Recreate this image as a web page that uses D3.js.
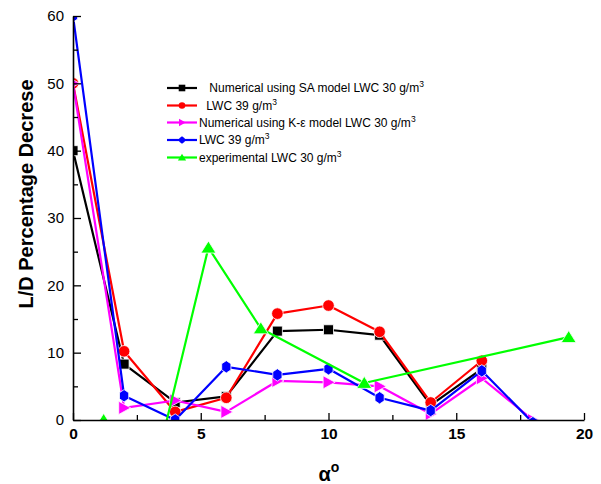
<!DOCTYPE html>
<html>
<head>
<meta charset="utf-8">
<script src="https://cdn.jsdelivr.net/npm/d3@7/dist/d3.min.js"></script>
<style>
  html, body { margin: 0; padding: 0; background: #fff; }
  svg { display: block; font-family: Arial, "Liberation Sans", sans-serif; }
</style>
</head>
<body>
<svg id="chart" width="601" height="484"></svg>
<script>
// ---- data ----
const alphaA = [0, 2, 4, 6, 8, 10, 12, 14, 16];
const alphaB = [0, 2, 4, 6, 8, 10, 12, 14, 16, 18];
const saLwc30 = [40, 8.3, 2.6, 3.5, 13.2, 13.4, 12.6, 2.2, 7.6];
const saLwc39 = [50, 10.2, 1.2, 3.3, 15.8, 17.0, 13.1, 2.6, 8.8];
const keLwc30 = [50, 1.8, 2.9, 1.2, 5.8, 5.6, 5.0, 0.9, 6.2, 0];
const keLwc39 = [60, 3.6, 0, 7.9, 6.7, 7.6, 3.3, 1.4, 7.3, -0.4];
const expAlpha = [1.2, 3.5, 5.3, 7.35, 11.4, 19.4];
const expLwc30 = [0, -2.7, 25.6, 13.6, 5.5, 12.3];
const yTicks = [0, 10, 20, 30, 40, 50, 60];
const yMinor = [5, 15, 25, 35, 45, 55];
const xTicks = [0, 5, 10, 15, 20];
const xMinor = [2.5, 7.5, 12.5, 17.5];
const legendLabels = [" Numerical using SA model LWC 30 g/m", " LWC 39 g/m", "Numerical using K-\u03b5 model LWC 30 g/m", "LWC 39 g/m", "experimental LWC 30 g/m"];

const series = [
  { xs: alphaA, ys: saLwc30, color: "#000000", shape: "square" },
  { xs: alphaA, ys: saLwc39, color: "#ff0000", shape: "circle" },
  { xs: alphaB, ys: keLwc30, color: "#ff00ff", shape: "right" },
  { xs: alphaB, ys: keLwc39, color: "#0000ff", shape: "hex" },
  { xs: expAlpha, ys: expLwc30, color: "#00ff00", shape: "up" }
];

// ---- layout ----
const svg = d3.select("#chart");
const L = 73, R = 584, T = 16, B = 420;
const x = d3.scaleLinear().domain([0, 20]).range([L, R]);
const y = d3.scaleLinear().domain([0, 60]).range([B, T]);

function shapePath(shape, s) {
  if (shape === "square") {
    return `M${-s},${-s}H${s}V${s}H${-s}Z`;
  }
  if (shape === "circle") {
    return `M${s},0A${s},${s} 0 1,1 ${-s},0A${s},${s} 0 1,1 ${s},0Z`;
  }
  if (shape === "hex") {
    const pts = d3.range(6).map(i => {
      const a = Math.PI / 2 + i * Math.PI / 3;
      return [s * 0.95 * Math.cos(a), s * 1.1 * Math.sin(a)];
    });
    return "M" + pts.map(p => p.join(",")).join("L") + "Z";
  }
  if (shape === "right") {
    return `M${s * 1.1},0L${-s * 0.9},${-s * 1.1}L${-s * 0.9},${s * 1.1}Z`;
  }
  if (shape === "up") {
    return `M0,${-s * 1.1}L${s * 1.25},${s * 0.9}L${-s * 1.25},${s * 0.9}Z`;
  }
}
const markerSize = { square: 5, circle: 5.8, hex: 5.6, right: 6, up: 6 };

svg.append("defs").append("clipPath").attr("id", "plotclip")
  .append("rect").attr("x", L).attr("y", T).attr("width", R - L).attr("height", B - T);

const plot = svg.append("g").attr("clip-path", "url(#plotclip)");
const line = d3.line().x(d => x(d[0])).y(d => y(d[1]));

series.forEach(s => {
  const pts = s.xs.map((v, i) => [v, s.ys[i]]);
  plot.append("path").datum(pts)
    .attr("d", line)
    .attr("fill", "none")
    .attr("stroke", s.color)
    .attr("stroke-width", 2.2)
    .attr("stroke-linejoin", "round");
  plot.selectAll(null).data(pts).enter().append("path")
    .attr("transform", d => `translate(${x(d[0])},${y(d[1])})`)
    .attr("d", shapePath(s.shape, markerSize[s.shape]))
    .attr("fill", s.color)
    .attr("stroke", "#fff")
    .attr("stroke-width", 0.8);
});

// ---- axes ----
const yAxis = svg.append("g").attr("transform", `translate(${L},0)`)
  .call(d3.axisLeft(y).tickValues(yTicks).tickSizeInner(-8).tickSizeOuter(0).tickPadding(9));
yAxis.select(".domain").attr("stroke-width", 1.6);
yAxis.selectAll(".tick line").attr("stroke-width", 1.3);
yAxis.selectAll("text").attr("font-size", 15).attr("font-family", "Arial, 'Liberation Sans', sans-serif").attr("fill", "#000");

const yAxisMinor = svg.append("g").attr("transform", `translate(${L},0)`)
  .call(d3.axisLeft(y).tickValues(yMinor).tickSizeInner(-5).tickSizeOuter(0).tickFormat(""));
yAxisMinor.select(".domain").remove();
yAxisMinor.selectAll(".tick line").attr("stroke-width", 1.3);

const xAxis = svg.append("g").attr("transform", `translate(0,${B})`)
  .call(d3.axisBottom(x).tickValues(xTicks).tickSizeInner(-7).tickSizeOuter(0).tickPadding(8));
xAxis.select(".domain").attr("stroke-width", 1.6);
xAxis.selectAll(".tick line").attr("stroke-width", 1.3);
xAxis.selectAll("text").attr("font-size", 15.5).attr("font-weight", "bold").attr("font-family", "Arial, 'Liberation Sans', sans-serif").attr("fill", "#000");

const xAxisMinor = svg.append("g").attr("transform", `translate(0,${B})`)
  .call(d3.axisBottom(x).tickValues(xMinor).tickSizeInner(-5).tickSizeOuter(0).tickFormat(""));
xAxisMinor.select(".domain").remove();
xAxisMinor.selectAll(".tick line").attr("stroke-width", 1.3);

// axis titles
svg.append("text")
  .attr("transform", `translate(33,194) rotate(-90)`)
  .attr("text-anchor", "middle")
  .attr("font-size", 20).attr("font-weight", "bold")
  .text("L/D Percentage Decrese");

const xt = svg.append("text")
  .attr("x", 329).attr("y", 481)
  .attr("text-anchor", "middle")
  .attr("font-size", 20).attr("font-weight", "bold");
xt.append("tspan").text("\u03b1");
xt.append("tspan").attr("dy", -9).attr("font-size", 14).text("o");

// ---- legend ----
const leg = svg.append("g");
const rowY = [88, 105.5, 122.5, 140, 157.5];
const textX = [206, 203, 199, 199, 199];
series.forEach((s, i) => {
  const g = leg.append("g").attr("transform", `translate(0,${rowY[i]})`);
  g.append("line").attr("x1", 167).attr("x2", 197).attr("y1", 0).attr("y2", 0)
    .attr("stroke", s.color).attr("stroke-width", 2.2);
  g.append("path").attr("transform", "translate(182,0)")
    .attr("d", shapePath(s.shape, 3.3)).attr("fill", s.color);
  const t = g.append("text").attr("x", textX[i]).attr("y", 4.3)
    .attr("font-size", 12).attr("xml:space", "preserve").style("white-space", "pre");
  t.append("tspan").text(legendLabels[i]);
  t.append("tspan").attr("dy", -5).attr("font-size", 8.5).text("3");
});
</script>
</body>
</html>
